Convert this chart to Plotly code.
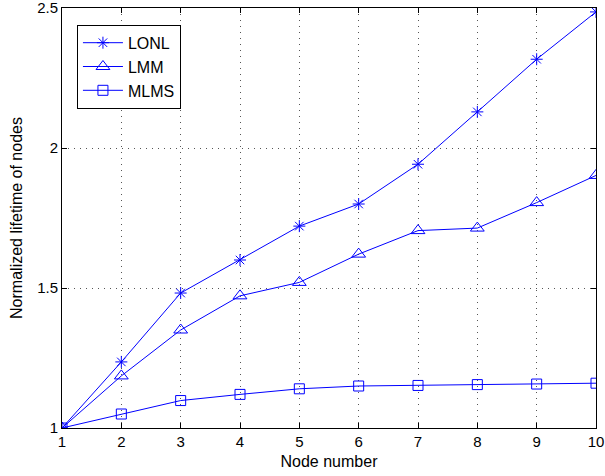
import plotly.graph_objects as go

nodes = [1, 2, 3, 4, 5, 6, 7, 8, 9, 10]
lonl = [1.0, 1.236, 1.482, 1.600, 1.721, 1.800, 1.942, 2.129, 2.317, 2.486]
lmm = [1.0, 1.186, 1.350, 1.472, 1.520, 1.621, 1.705, 1.714, 1.805, 1.902]
mlms = [1.0, 1.050, 1.098, 1.120, 1.140, 1.150, 1.152, 1.155, 1.157, 1.160]
x_ticks = [1, 2, 3, 4, 5, 6, 7, 8, 9, 10]
y_ticks = [1, 1.5, 2, 2.5]
y_tick_text = ["1", "1.5", "2", "2.5"]

blue = "#0000ff"
fig = go.Figure()
for name, ys, sym, sz in [("LONL", lonl, "asterisk-open", 10),
                          ("LMM", lmm, "triangle-up-open", 12),
                          ("MLMS", mlms, "square-open", 10)]:
    fig.add_trace(go.Scatter(
        x=nodes, y=ys, name=name, mode="lines+markers",
        line=dict(color=blue, width=1),
        marker=dict(symbol=sym, size=sz, color=blue, line=dict(color=blue, width=1)),
    ))

axis_common = dict(
    showline=True, linecolor="black", linewidth=1, mirror="ticks",
    ticks="inside", ticklen=5, tickcolor="black",
    showgrid=True, gridcolor="#555555", griddash="1px,5px", gridwidth=1,
    zeroline=False, tickfont=dict(size=15, color="black"), automargin=False,
    ticklabeloverflow="allow",
)
fig.update_xaxes(range=[1, 10], tickvals=x_ticks,
                 title=dict(text="Node number", font=dict(size=16, color="black"), standoff=6),
                 **axis_common)
fig.update_yaxes(range=[1, 2.5], tickvals=y_ticks, ticktext=y_tick_text,
                 title=dict(text="Normalized lifetime of nodes", font=dict(size=16, color="black"), standoff=10),
                 **axis_common)

fig.update_layout(
    width=605, height=476,
    margin=dict(l=62, r=9, t=8, b=48),
    paper_bgcolor="white", plot_bgcolor="white",
    font=dict(family="Liberation Sans, Arial, sans-serif", color="black"),
    legend=dict(x=0.028, y=0.96, xanchor="left", yanchor="top",
                bgcolor="white", bordercolor="black", borderwidth=1,
                font=dict(size=16, color="black"), tracegroupgap=0, itemwidth=40),
    showlegend=True,
)
fig.write_html("out.html")
